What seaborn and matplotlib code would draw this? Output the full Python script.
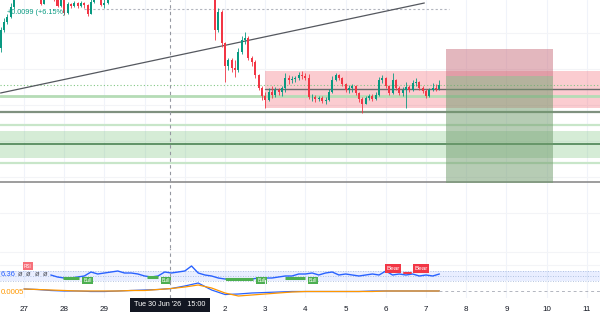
import matplotlib
matplotlib.use("Agg")
import matplotlib.pyplot as plt
import matplotlib.dates as mdates
import seaborn as sns
import pandas as pd
import numpy as np

# ---- 2h candles, from 26 Jun 08:00 ----
first_open = 0.172
closes = [0.176, 0.185, 0.189, 0.1915, 0.1965, 0.202, 0.203, 0.204, 0.2025, 0.205,
          0.2035, 0.202, 0.203, 0.198, 0.2025, 0.204, 0.203, 0.2015, 0.197, 0.202,
          0.1935, 0.198, 0.197, 0.1985, 0.197, 0.1985, 0.1975, 0.193, 0.199, 0.2025,
          0.204, 0.1975, 0.1985, 0.203,
          0.205, 0.2075, 0.21, 0.2125, 0.211, 0.215, 0.2175, 0.22, 0.219, 0.2225,
          0.225, 0.224, 0.2275, 0.23, 0.229, 0.226, 0.228, 0.225, 0.2225, 0.224,
          0.22, 0.2175, 0.219, 0.215, 0.214, 0.2125, 0.21, 0.211, 0.209, 0.2075, 0.205,
          0.185, 0.194, 0.1785, 0.167, 0.170, 0.166, 0.165, 0.174, 0.180, 0.181,
          0.171, 0.169, 0.1625, 0.156, 0.152, 0.150, 0.154, 0.1525, 0.155, 0.154,
          0.156, 0.161, 0.160, 0.1605, 0.161, 0.1625, 0.162, 0.161, 0.1515, 0.1515,
          0.1505, 0.151, 0.1495, 0.150, 0.154, 0.160, 0.1625, 0.161, 0.158, 0.155,
          0.156, 0.157, 0.1535, 0.1505, 0.148, 0.151, 0.152, 0.1505, 0.1525, 0.160,
          0.161, 0.157, 0.1535, 0.160, 0.156, 0.1535, 0.155, 0.1565, 0.155, 0.1585,
          0.159, 0.156, 0.1545, 0.152, 0.155, 0.156, 0.1555, 0.1575]
highs = [0.177, 0.1865, 0.191, 0.193, 0.1985, 0.204, 0.206, 0.206, 0.205, 0.2075,
         0.206, 0.2045, 0.205, 0.2045, 0.204, 0.206, 0.205, 0.204, 0.2025, 0.204,
         0.203, 0.199, 0.1985, 0.1995, 0.199, 0.1995, 0.199, 0.198, 0.201, 0.2045,
         0.206, 0.2045, 0.201, 0.205,
         0.2065, 0.209, 0.2115, 0.214, 0.2135, 0.2165, 0.219, 0.2215, 0.2215, 0.224,
         0.2265, 0.226, 0.229, 0.2315, 0.231, 0.2295, 0.2295, 0.2285, 0.2255, 0.2255,
         0.2245, 0.221, 0.2205, 0.2195, 0.216, 0.2145, 0.213, 0.2125, 0.2115, 0.2095, 0.208,
         0.2075, 0.196, 0.195, 0.179, 0.171, 0.171, 0.170, 0.176, 0.182, 0.184,
         0.182, 0.172, 0.170, 0.163, 0.157, 0.154, 0.156, 0.157, 0.1565, 0.156,
         0.157, 0.1635, 0.1625, 0.162, 0.162, 0.164, 0.1645, 0.1635, 0.163, 0.153,
         0.1525, 0.152, 0.152, 0.1515, 0.1555, 0.162, 0.1635, 0.163, 0.1615, 0.1585,
         0.1575, 0.158, 0.1575, 0.154, 0.1515, 0.152, 0.153, 0.153, 0.154, 0.1615,
         0.1625, 0.1615, 0.1575, 0.1635, 0.1605, 0.157, 0.1565, 0.159, 0.1575, 0.160,
         0.161, 0.1595, 0.157, 0.1555, 0.156, 0.1585, 0.158, 0.160]
lows = [0.171, 0.174, 0.184, 0.188, 0.191, 0.1955, 0.2005, 0.2015, 0.201, 0.2015,
        0.202, 0.201, 0.201, 0.1975, 0.198, 0.2015, 0.201, 0.1995, 0.1965, 0.1965,
        0.1925, 0.193, 0.196, 0.1965, 0.196, 0.1965, 0.196, 0.192, 0.193, 0.1985,
        0.2015, 0.197, 0.196, 0.198,
        0.2015, 0.204, 0.2065, 0.209, 0.2095, 0.2105, 0.214, 0.2165, 0.2175, 0.218,
        0.2215, 0.2225, 0.223, 0.2265, 0.2275, 0.2245, 0.2245, 0.2235, 0.221, 0.221,
        0.2185, 0.216, 0.216, 0.2135, 0.2125, 0.211, 0.2085, 0.2085, 0.2075, 0.206, 0.2035,
        0.180, 0.184, 0.1765, 0.159, 0.165, 0.164, 0.1615, 0.164, 0.173, 0.178,
        0.170, 0.167, 0.161, 0.155, 0.150, 0.146, 0.1495, 0.151, 0.1515, 0.1525,
        0.152, 0.154, 0.158, 0.1585, 0.159, 0.160, 0.1605, 0.160, 0.1505, 0.1495,
        0.149, 0.1495, 0.1485, 0.148, 0.1495, 0.1535, 0.1595, 0.160, 0.157, 0.154,
        0.1535, 0.154, 0.1525, 0.149, 0.1435, 0.148, 0.150, 0.1495, 0.150, 0.152,
        0.1585, 0.156, 0.1525, 0.153, 0.155, 0.1525, 0.152, 0.146, 0.154, 0.1545,
        0.157, 0.155, 0.1535, 0.151, 0.1515, 0.1545, 0.1545, 0.155]

# ---- drawn levels / zones ----
trend_pts = (["2026-06-26 10:00", "2026-07-06 23:00"], [0.1535, 0.1985])
level_lines = {  # price: (color, width, style)
    0.1575: ("#81c784", 0.8, (0, (1, 2))),
    0.152: ("#b5dcb6", 2.0, "-"),
    0.14425: ("#7f917f", 1.6, "-"),
    0.1375: ("#c8e6c9", 1.6, "-"),
    0.128: ("#3f7a48", 1.1, "-"),
    0.1185: ("#c8e6c9", 1.6, "-"),
    0.109: ("#8c8c8c", 1.2, "-"),
}
range_start = "2026-07-03 00:00"
range_zone = (0.146, 0.1645)
range_mid = 0.1555
demand_zone = (0.121, 0.1345)
high_line = ("2026-06-28 12:00", "2026-07-07 14:00", 0.1955)
pos_start, pos_end = "2026-07-07 12:00", "2026-07-10 04:00"
pos_entry, pos_stop, pos_target = 0.162, 0.1755, 0.1085
crosshair = "2026-06-30 15:00"

# ---- oscillator pane (4h) ----
osc_values = [52, 48, 46, 46, 48, 50, 58, 54, 56, 58,
              60, 56, 56, 54, 50, 48, 50, 58, 56, 58,
              60, 70, 56, 52, 50, 46, 44, 44, 44, 44,
              44, 46, 46, 46, 48, 50, 50, 54, 54, 56,
              52, 56, 58, 52, 54, 52, 50, 52, 54, 52,
              60, 52, 54, 52, 54, 50, 52, 50, 54]
bull_segments = [("2026-06-27 23:00", "2026-06-28 09:00", 46),
                 ("2026-06-30 01:30", "2026-06-30 08:00", 48),
                 ("2026-07-02 00:00", "2026-07-02 17:00", 44),
                 ("2026-07-03 12:00", "2026-07-04 00:00", 46)]
bull_labels = [("2026-06-28 14:00", 41), ("2026-06-30 12:45", 41),
               ("2026-07-02 22:00", 41), ("2026-07-04 04:30", 41)]
bear_labels = [("2026-07-06 04:20", 65), ("2026-07-06 21:00", 65)]

# ---- macd-like pane (8h) ----
fast_values = [0.0011, 0.0010, 0.0008, 0.0007, 0.0007, 0.0006, 0.0006, 0.0007, 0.0008, 0.0009,
               0.0010, 0.0012, 0.0017, 0.0023, 0.0009, 0.0000, 0.0001, 0.0003, 0.0004, 0.0005,
               0.0006, 0.0006, 0.0006, 0.0006, 0.0006, 0.0006,
               0.0007, 0.0007, 0.0007, 0.0007, 0.0007, 0.0007]
slow_values = [0.0011, 0.0010, 0.0009, 0.0008, 0.0007, 0.0007, 0.0007, 0.0007, 0.0008, 0.0008,
               0.0010, 0.0012, 0.0015, 0.0019, 0.0013, 0.0003, -0.0003, -0.0001, 0.0001, 0.0003,
               0.0005, 0.0006, 0.0006, 0.0006, 0.0006, 0.0006, 0.0006,
               0.0007, 0.0007, 0.0007, 0.0007, 0.0007]

# 30 Jun and Jul are hidden under the crosshair time tooltip
day_ticks = pd.date_range("2026-06-27", "2026-07-11", freq="D")
day_labels = ["27", "28", "29", "", "", "2", "3", "4", "5", "6", "7", "8", "9", "10", "11"]

UP, DOWN = "#089981", "#f23645"

sns.set_theme(style="white")
plt.rcParams["font.family"] = ["Liberation Sans", "DejaVu Sans"]

def dn(s):
    return mdates.date2num(pd.Timestamp(s))

times = pd.date_range("2026-06-26 08:00", periods=len(closes), freq="2h")
candles = pd.DataFrame({"t": mdates.date2num(times), "close": closes,
                        "high": highs, "low": lows})
candles["open"] = [first_open] + closes[:-1]
candles["color"] = np.where(candles["close"] >= candles["open"], UP, DOWN)

osc = pd.DataFrame({"t": mdates.date2num(pd.date_range("2026-06-27 16:00", periods=len(osc_values), freq="4h")),
                    "v": osc_values})
macd = pd.DataFrame({"t": mdates.date2num(pd.date_range("2026-06-27 00:00", periods=len(fast_values), freq="8h")),
                     "fast": fast_values, "slow": slow_values})

t0 = dn("2026-06-27")
xmin, xmax = t0 - 0.597, t0 + 14.328

fig = plt.figure(figsize=(6, 3.15), dpi=100)
H = 315.0
def rect(top, bottom):
    return [0, 1 - bottom / H, 1, (bottom - top) / H]

ax = fig.add_axes(rect(0, 248))
ax_o = fig.add_axes(rect(248, 283), sharex=ax)
ax_m = fig.add_axes(rect(280, 298), sharex=ax)
for a in (ax, ax_o, ax_m):
    a.set_facecolor("none")
    for s in a.spines.values():
        s.set_visible(False)
    a.grid(axis="x", color="#f0f3fa", lw=0.8)
    a.tick_params(length=0, labelleft=False)
    a.set_xlim(xmin, xmax)
    a.axvline(dn(crosshair), color="#9598a1", lw=0.8, ls=(0, (3, 3)), zorder=6)
ax.set_facecolor("white")

# main pane
ax.set_ylim(0.076, 0.2)
ax.set_yticks([0.1835, 0.1655, 0.1475, 0.1295, 0.1115, 0.0935])
ax.grid(axis="y", color="#f3f4f7", lw=0.8)
ax.tick_params(labelbottom=False)

ax.axhspan(*demand_zone, color="#4caf50", alpha=0.23, lw=0, zorder=1)
ax.fill_between([dn(range_start), xmax], *range_zone, color="#f23645", alpha=0.25, lw=0, zorder=1)
for price, (c, w, ls) in level_lines.items():
    ax.axhline(price, color=c, lw=w, ls=ls, zorder=2)
ax.plot([dn(range_start), xmax], [range_mid, range_mid], color="#6b6b6b", lw=1.0, zorder=2)
ax.plot([dn(high_line[0]), dn(high_line[1])], [high_line[2]] * 2, color="#b2b5be", lw=0.8,
        ls=(0, (2, 2)), zorder=2)
ax.plot([dn(p) for p in trend_pts[0]], trend_pts[1], color="#55585f", lw=0.9, zorder=2)

ax.fill_between([dn(pos_start), dn(pos_end)], pos_entry, pos_stop, color="#c9707f", alpha=0.5, lw=0, zorder=4)
ax.fill_between([dn(pos_start), dn(pos_end)], pos_target, pos_entry, color="#6f9a6b", alpha=0.5, lw=0, zorder=4)

ax.vlines(candles["t"], candles["low"], candles["high"], colors=candles["color"], lw=0.6, zorder=3)
ax.bar(candles["t"], candles["close"] - candles["open"], bottom=candles["open"], width=0.05,
       color=candles["color"], lw=0, zorder=3)

# oscillator pane
ax_o.set_ylim(36, 106)
ax_o.set_yticks([72, 98])
ax_o.grid(axis="y", color="#f3f4f7", lw=0.8)
ax_o.tick_params(labelbottom=False)
ax_o.axhspan(40, 60, color="#2962ff", alpha=0.1, lw=0)
for lvl in (40, 50, 60):
    ax_o.axhline(lvl, color="#9fb4d8", lw=0.6, ls=(0, (1, 2)))
sns.lineplot(data=osc, x="t", y="v", ax=ax_o, color="#2962ff", lw=1.0)
for s, e, v in bull_segments:
    ax_o.plot([dn(s), dn(e)], [v, v], color="#4caf50", lw=2.2, solid_capstyle="butt")
for d, v in bull_labels:
    ax_o.text(dn(d), v, "Bull", ha="center", va="center", fontsize=3.6, color="white",
              bbox=dict(boxstyle="square,pad=0.25", fc="#4caf50", ec="none"))
ax_o.plot([dn("2026-07-06 11:00"), dn("2026-07-06 15:00")], [56, 56], color=DOWN, lw=1.5)
for d, v in bear_labels:
    ax_o.text(dn(d), v, "Bear", ha="center", va="center", fontsize=4.6, color="white",
              bbox=dict(boxstyle="square,pad=0.25", fc=DOWN, ec="none"))
ax_o.set_xlabel("")
ax_o.set_ylabel("")

# macd pane
ax_m.set_ylim(-0.0007, 0.0029)
sns.lineplot(data=macd, x="t", y="fast", ax=ax_m, color="#2962ff", lw=0.9)
sns.lineplot(data=macd, x="t", y="slow", ax=ax_m, color="#ff9800", lw=0.9)
ax_m.plot([macd["t"].iloc[-1], xmax], [0.0007, 0.0007], color="#b2b5be", lw=0.7, ls=(0, (3, 3)))
ax_m.set_xlabel("")
ax_m.set_ylabel("")
ax_m.set_xticks(mdates.date2num(day_ticks))
ax_m.set_xticklabels(day_labels)
ax_m.tick_params(axis="x", labelsize=5.8, labelcolor="#131722", pad=6)

# text overlays
fig.text(7 / 600, 1 - 13 / H, "+0.0099 (+6.15%)", color=UP, fontsize=5.2, va="center", ha="left")
fig.text(1 / 600, 1 - 274.5 / H, "6.36", color="#2962ff", fontsize=5.6, va="center", ha="left")
for xp in (20, 28, 37, 45):
    fig.text(xp / 600, 1 - 274.5 / H, "ø", color="#50535e", fontsize=5.6, va="center", ha="center")
fig.text(28 / 600, 1 - 266 / H, "RSI", color="white", fontsize=3.4, va="center", ha="center",
         bbox=dict(boxstyle="square,pad=0.3", fc="#f7707a", ec="none"))
fig.text(24 / 600, 1 - 292 / H, "0.0005", color="#ff9800", fontsize=5.6, va="center", ha="right")
fig.text(170 / 600, 1 - 305 / H, "Tue 30 Jun '26   15:00", color="white", fontsize=5.2,
         va="center", ha="center", zorder=10,
         bbox=dict(boxstyle="square,pad=0.55", fc="#131722", ec="none"))

fig.savefig("out.png", dpi=100)
